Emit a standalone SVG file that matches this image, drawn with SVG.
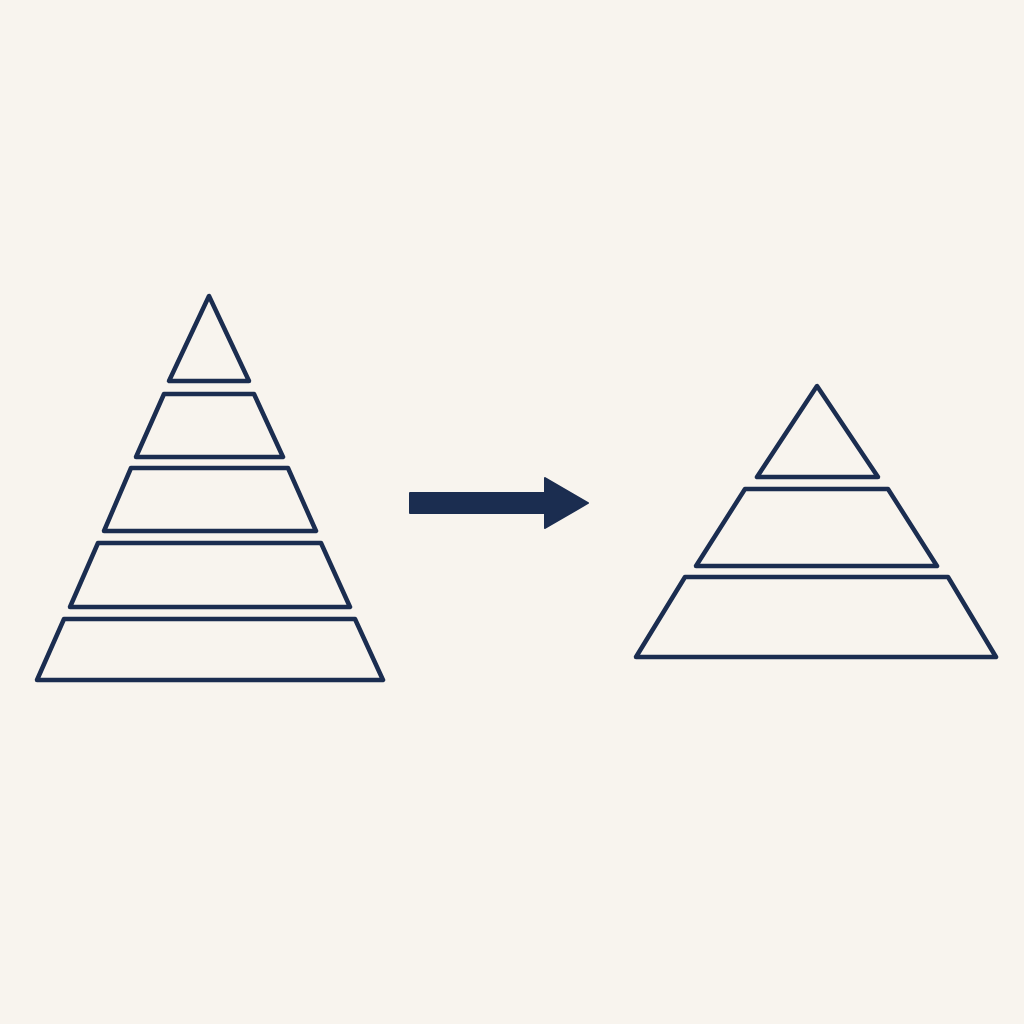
<svg xmlns="http://www.w3.org/2000/svg" width="1024" height="1024" viewBox="0 0 1024 1024">
<style>
.tier{fill:none;stroke:#1b2d50;stroke-width:4.5;stroke-linejoin:round}
.arrow{fill:#1b2d50;stroke:#1b2d50;stroke-width:2;stroke-linejoin:round}
</style>
<rect width="1024" height="1024" fill="#f8f4ee"/>
<g id="left-pyramid">
<polygon id="l1" class="tier" points="209,296 169,381 249,381"/>
<polygon id="l2" class="tier" points="164,394 254,394 283,457 136,457"/>
<polygon id="l3" class="tier" points="131,468 288,468 316,531 104,531"/>
<polygon id="l4" class="tier" points="98,543 321,543 350,607 70,607"/>
<polygon id="l5" class="tier" points="64,619 355,619 383,680 37,680"/>
</g>
<g id="connectors">
<path class="arrow" d="M410,493 L545,493 L545,478 L588,503 L545,528 L545,513 L410,513 Z"/>
</g>
<g id="right-pyramid">
<polygon id="r1" class="tier" points="817,386 757,477 878,477"/>
<polygon id="r2" class="tier" points="745,489 888,489 937,566 696,566"/>
<polygon id="r3" class="tier" points="685,577 948,577 996,657 636,657"/>
</g>
</svg>
